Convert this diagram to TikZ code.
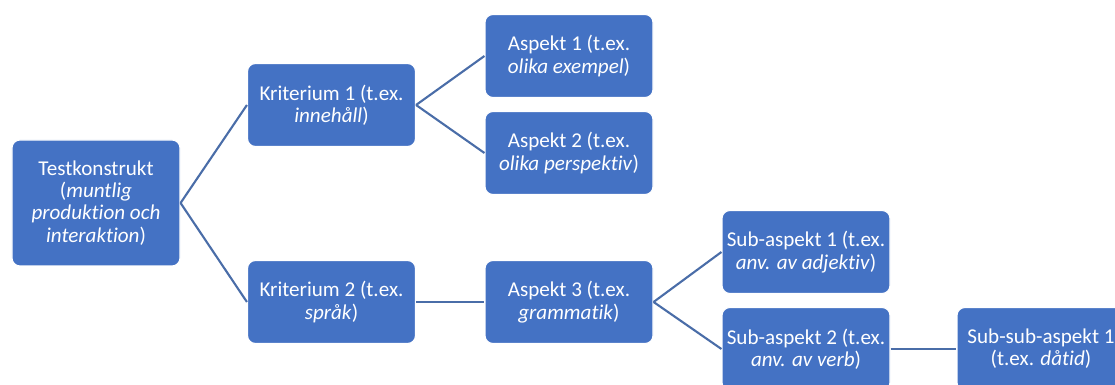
\documentclass[tikz,border=0pt]{standalone}
\usepackage{fontspec}
\setmainfont[Ligatures=NoCommon]{Carlito}
\usepackage{xcolor}
\usepackage{tikz}
\usetikzlibrary{positioning}
\definecolor{boxblue}{HTML}{4472C4}
\definecolor{lineblue}{HTML}{4A6DA8}
\tikzset{
	link/.style={draw=lineblue, line width=1.5pt}
}

\begin{document}
\begin{tikzpicture}[auto]
    \useasboundingbox (0,0) rectangle (27.875,-9.625);
    \clip (0,0) rectangle (27.875,-9.625);
    \tikzstyle{kbox}=[rectangle, rounded corners=0.2cm, draw=white, line width=0.8pt, fill=boxblue,
        text=white, align=center, minimum width=4.2cm, minimum height=2.075cm, inner sep=0pt,
        font=\fontsize{15}{15.8}\selectfont]
    \tikzstyle{kbox_root}=[kbox, minimum height=3.15cm]

    \node (test) at (2.4,-5.075) [kbox_root] {Testkonstrukt\\(\textit{muntlig}\\\textit{produktion och}\\\textit{interaktion})};
    \node (krit1) at (8.2875,-2.625) [kbox] {Kriterium 1 (t.ex.\\\textit{innehåll})};
    \node (krit2) at (8.2875,-7.55) [kbox] {Kriterium 2 (t.ex.\\\textit{språk})};
    \node (asp1) at (14.225,-1.4) [kbox] {Aspekt 1 (t.ex.\\\textit{olika exempel})};
    \node (asp2) at (14.225,-3.825) [kbox] {Aspekt 2 (t.ex.\\\textit{olika perspektiv})};
    \node (asp3) at (14.225,-7.55) [kbox] {Aspekt 3 (t.ex.\\\textit{grammatik})};
    \node (sub1) at (20.15,-6.3) [kbox] {Sub-aspekt 1 (t.ex.\\\textit{anv. av adjektiv})};
    \node (sub2) at (20.15,-8.725) [kbox] {Sub-aspekt 2 (t.ex.\\\textit{anv. av verb})};
    \node (subsub1) at (26.025,-8.725) [kbox] {Sub-sub-aspekt 1\\(t.ex. \textit{dåtid})};

    \path (test.east) edge [link] (krit1.west);
    \path (test.east) edge [link] (krit2.west);
    \path (krit1.east) edge [link] (asp1.west);
    \path (krit1.east) edge [link] (asp2.west);
    \path (krit2.east) edge [link] (asp3.west);
    \path (asp3.east) edge [link] (sub1.west);
    \path (asp3.east) edge [link] (sub2.west);
    \path (sub2.east) edge [link] (subsub1.west);
\end{tikzpicture}
\end{document}
